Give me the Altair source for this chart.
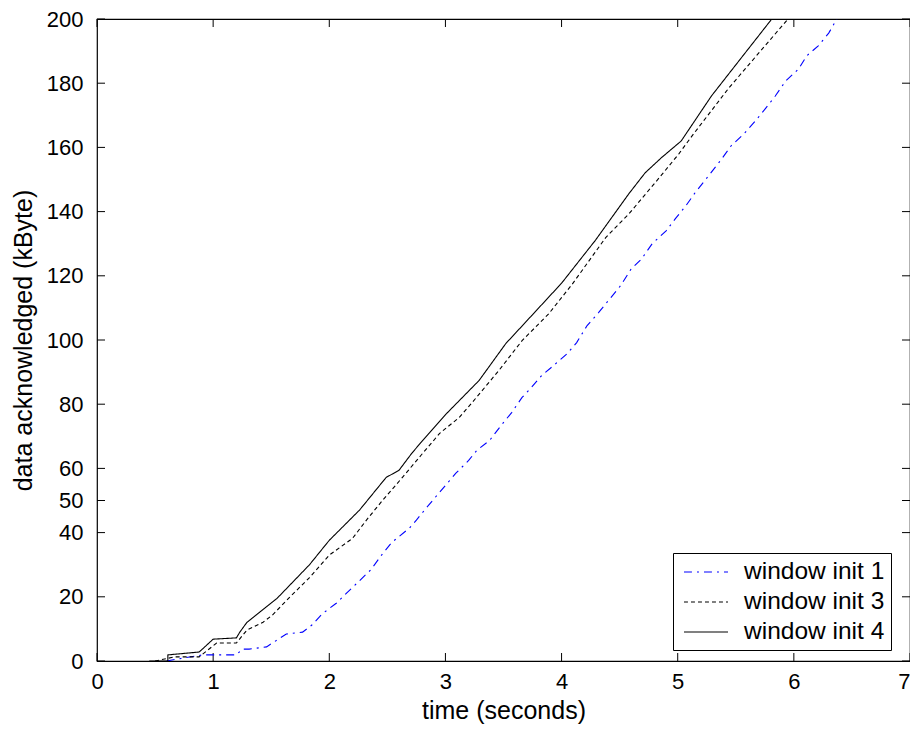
import altair as alt
import pandas as pd

# ---- data ----
t_init4 = [0.45, 0.61, 0.61, 0.88, 1.0, 1.2, 1.23, 1.29, 1.4, 1.55, 1.83, 2.0, 2.26, 2.49, 2.6,
           2.71, 2.79, 3.01, 3.29, 3.52, 3.74, 4.0, 4.29, 4.58, 4.72, 4.86, 5.03, 5.29, 5.58, 5.81]
v_init4 = [0, 0, 1.9, 2.8, 6.8, 7.2, 9, 12, 15.2, 19.5, 30, 37.6, 47, 57.2, 59.4,
           64.7, 68.1, 77.1, 87.4, 98.9, 107.5, 117.7, 131, 145.6, 152.1, 156.8, 162, 176, 189.4, 200]

t_init3 = [0.5, 0.67, 0.88, 1.03, 1.2, 1.29, 1.43, 1.51, 1.66, 1.83, 2.0, 2.2, 2.32, 2.46, 2.63,
           2.79, 2.95, 3.12, 3.26, 3.46, 3.66, 3.89, 4.09, 4.38, 4.58, 4.84, 5.01, 5.13, 5.44, 5.75, 5.95]
v_init3 = [0, 1.3, 1.3, 5.6, 5.6, 9.6, 12.1, 14.3, 19.9, 26, 33, 38.2, 43.9, 50.1, 57.2,
           64.1, 70.9, 75.9, 81.8, 90.5, 99.8, 108.2, 117.3, 131.9, 139.3, 150.5, 158, 163.9, 178.5, 191.6, 200]

t_init1 = [0.6, 0.69, 0.91, 1.2, 1.25, 1.31, 1.46, 1.51, 1.63, 1.77, 1.85, 1.94, 2.06, 2.13, 2.24,
           2.36, 2.45, 2.54, 2.69, 2.75, 2.84, 3.09, 3.2, 3.27, 3.38, 3.48, 3.57, 3.66, 3.74, 3.83,
           3.93, 4.05, 4.13, 4.22, 4.32, 4.39, 4.51, 4.6, 4.69, 4.78, 4.9, 4.98, 5.07, 5.15, 5.28,
           5.37, 5.46, 5.57, 5.67, 5.76, 5.84, 5.93, 6.04, 6.11, 6.21, 6.3, 6.37]
v_init1 = [0, 0.6, 1.9, 1.9, 3.7, 3.7, 4.4, 5.6, 8.4, 9.0, 11.2, 14.7, 18, 20.5, 24.3,
           28.5, 33, 37, 41.4, 43.9, 47.9, 58.5, 62.5, 65.6, 68.7, 73.4, 77.4, 82.1, 85.2, 89,
           92, 95.8, 99.2, 104.5, 108.6, 111.7, 117, 122.2, 125.3, 130, 134, 137.8, 141.8, 145.9, 151.8,
           156, 160.5, 164.2, 168.3, 172.3, 176, 180.7, 184.4, 188.5, 191.6, 195.6, 200]

series_names = ["window init 1", "window init 3", "window init 4"]
x_ticks = [0, 1, 2, 3, 4, 5, 6, 7]
y_ticks = [0, 20, 40, 50, 60, 80, 100, 120, 140, 160, 180, 200]

rows = []
for name, ts, vs in [(series_names[0], t_init1, v_init1),
                     (series_names[1], t_init3, v_init3),
                     (series_names[2], t_init4, v_init4)]:
    for i, (t, v) in enumerate(zip(ts, vs)):
        rows.append({"series": name, "t": t, "v": v, "order": i})
df = pd.DataFrame(rows)
xdf = pd.DataFrame({"x": x_ticks})
ydf = pd.DataFrame({"y": y_ticks})

W, H = 813, 642
TL = 8
FONT = "Liberation Sans"

xscale = alt.Scale(domain=[0, 7], nice=False, zero=False)
yscale = alt.Scale(domain=[0, 200], nice=False, zero=False)

legend = alt.Legend(
    title=None, orient="none", legendX=576, legendY=534,
    symbolType="M-0.7,0H3.13", symbolSize=529, symbolStrokeWidth=1.2,
    labelFont=FONT, labelFontSize=24.5, labelColor="black", labelOffset=39.5,
    padding=6.5, rowPadding=5, strokeColor="black", fillColor="white",
    labelLimit=400,
)

lines = alt.Chart(df).mark_line(strokeWidth=1.1, clip=True).encode(
    x=alt.X("t:Q", scale=xscale, title="time (seconds)",
            axis=alt.Axis(values=x_ticks, format="d", ticks=False, domain=False, grid=False,
                          labelPadding=10, labelFlush=False, titlePadding=6,
                          labelAlign=alt.ExprRef(expr="datum.value == 7 ? 'right' : 'center'"))),
    y=alt.Y("v:Q", scale=yscale, title="data acknowledged (kByte)",
            axis=alt.Axis(values=y_ticks, format="d", ticks=False, domain=False, grid=False,
                          labelPadding=14, labelFlush=False, labelOverlap=False,
                          titlePadding=10)),
    color=alt.Color("series:N", scale=alt.Scale(domain=series_names,
                                                range=["#0000ff", "#000000", "#000000"]),
                    legend=legend),
    strokeDash=alt.StrokeDash("series:N", scale=alt.Scale(domain=series_names,
                                                          range=[[8, 5, 2, 5], [4, 3], [1, 0]]),
                              legend=legend),
    order="order:Q",
)

tick_style = dict(color="black", strokeWidth=1)
left_ticks = alt.Chart(ydf).mark_rule(**tick_style).encode(
    y=alt.Y("y:Q", scale=yscale), x=alt.value(0), x2=alt.value(TL))
right_ticks = alt.Chart(ydf).mark_rule(**tick_style).encode(
    y=alt.Y("y:Q", scale=yscale), x=alt.value(W - TL), x2=alt.value(W))
bottom_ticks = alt.Chart(xdf).mark_rule(**tick_style).encode(
    x=alt.X("x:Q", scale=xscale), y=alt.value(H - TL), y2=alt.value(H))
top_ticks = alt.Chart(xdf).mark_rule(**tick_style).encode(
    x=alt.X("x:Q", scale=xscale), y=alt.value(0), y2=alt.value(TL))

chart = alt.layer(left_ticks, right_ticks, bottom_ticks, top_ticks, lines).properties(
    width=W, height=H,
    autosize=alt.AutoSizeParams(type="none"),
    padding={"left": 89, "top": 11, "right": 0, "bottom": 70},
    background="white",
).configure_view(
    stroke="black", strokeWidth=1.2
).configure_axis(
    labelFont=FONT, labelFontSize=22, labelColor="black",
    titleFont=FONT, titleFontSize=25, titleFontWeight="normal", titleColor="black",
)

chart.save("out.html", embed_options={"renderer": "svg", "actions": False})
